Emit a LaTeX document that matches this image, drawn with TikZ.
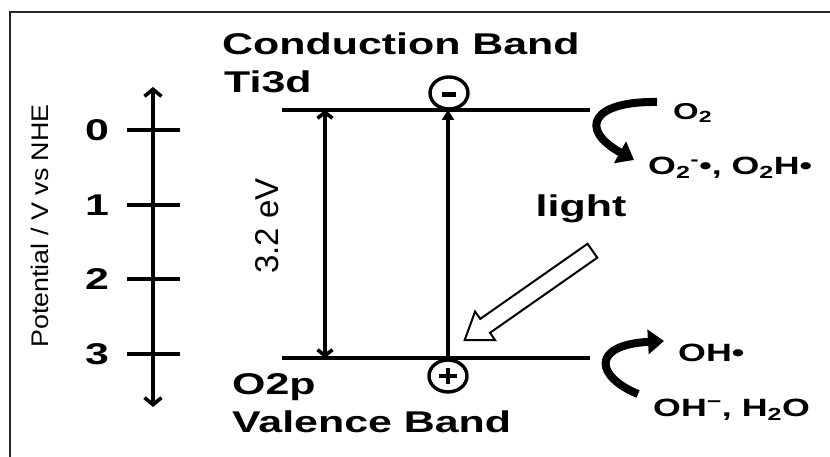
\documentclass[tikz,border=0pt]{standalone}
\usepackage{fontspec}
\setmainfont{Liberation Sans}
\newfontfamily\bandfont[FakeStretch=1.43]{Liberation Sans}
\newfontfamily\axisfont[FakeStretch=1.12]{Liberation Sans}
\usepackage{tikz}
\usetikzlibrary{arrows.meta,shapes.geometric,shapes.arrows}
\tikzset{
  frame-line/.style={line width=1.5pt,draw=black!85},
  band-line/.style={line width=3.6pt},
  axis-arrow/.style={{Straight Barb[length=7pt,width=17pt]}-{Straight Barb[length=7pt,width=17pt]},line width=3.6pt},
  gap-arrow/.style={{Straight Barb[length=6pt,width=15pt]}-{Straight Barb[length=6pt,width=15pt]},line width=3.6pt},
  exc-arrow/.style={-{Triangle[length=10pt,width=12pt]},line width=3.6pt},
  tick-mark/.style={line width=3.6pt},
  curve-arrow/.style={-{Triangle[length=16pt,width=24pt]},line width=8pt},
  carrier/.style={draw,ellipse,line width=3.4pt,minimum width=38pt,minimum height=32pt,inner sep=0pt},
  light-arrow/.style={single arrow,draw,line width=2pt,fill=white,inner xsep=0pt,inner ysep=7.5pt,
    minimum width=34pt,single arrow head extend=9pt,single arrow tip angle=70},
  band-label/.style={font=\bandfont\bfseries\fontsize{30}{36}\selectfont,inner sep=0pt},
  num-label/.style={font=\bandfont\bfseries\fontsize{30}{34}\selectfont,inner sep=0pt},
  chem-label/.style={font=\bandfont\bfseries\fontsize{25}{30}\selectfont,inner sep=0pt,anchor=west},
}

\begin{document}
\begin{tikzpicture}[x=1pt,y=1pt]
  \useasboundingbox (0,0) rectangle (830,457);
  \draw[frame-line] (10,0) |- (830,445);
  % potential axis
  \coordinate (axis-top) at (153,370);
  \coordinate (axis-bot) at (153,50);
  \draw[axis-arrow] (axis-bot) -- (axis-top);
  \foreach \v/\y in {0/327,1/252,2/178,3/103} {
    \draw[tick-mark] (127,\y) -- (180,\y);
    \node[num-label] (num-\v) at (97,\y) {\v};
  }
  \node[font=\axisfont\fontsize{24}{28}\selectfont,rotate=90] (axis-name) at (40,231) {Potential / V vs NHE};
  % bands
  \coordinate (cb-left) at (282,347);
  \coordinate (cb-right) at (590,347);
  \coordinate (vb-left) at (282,99);
  \coordinate (vb-right) at (590,99);
  \draw[band-line] (cb-left) -- (cb-right);
  \draw[band-line] (vb-left) -- (vb-right);
  \node[band-label,anchor=base west] (cb-name) at (222,402) {Conduction Band};
  \node[band-label,anchor=base west] (cb-orb) at (224,364) {Ti3d};
  \node[band-label,anchor=base west] (vb-orb) at (232,62) {O2p};
  \node[band-label,anchor=base west] (vb-name) at (232,24) {Valence Band};
  % band gap
  \coordinate (gap-top) at (325,347);
  \coordinate (gap-bot) at (325,99);
  \draw[gap-arrow] (gap-bot) -- (gap-top);
  \node[font=\fontsize{33}{36}\selectfont,rotate=90,inner sep=0pt] (gap-value) at (267,231) {3.2 eV};
  % excitation
  \node[carrier] (electron) at (449,364) {};
  \node[carrier] (hole) at (448,81) {};
  \draw[line width=5pt] ([xshift=-7pt,yshift=-2pt]electron.center) -- ([xshift=7pt,yshift=-2pt]electron.center);
  \draw[line width=4pt] ([xshift=-9pt]hole.center) -- ([xshift=9pt]hole.center);
  \draw[line width=4pt] ([yshift=-8pt]hole.center) -- ([yshift=8pt]hole.center);
  \coordinate (exc-bot) at (448,99);
  \coordinate (exc-top) at (448,347);
  \draw[exc-arrow] (exc-bot) -- (exc-top);
  % light
  \node[light-arrow,minimum height=156pt,rotate=215] (light-ray) at (533.5,165) {};
  \node[band-label,anchor=base] (light-name) at (581,240) {light};
  % reduction
  \coordinate (red-start) at (657,355);
  \coordinate (red-end) at (634,297);
  \draw[curve-arrow] (red-start) .. controls (592,356) and (578,328) .. (red-end);
  \node[chem-label,font=\bandfont\bfseries\fontsize{23}{27}\selectfont] (ox-in) at (673,344) {O\textsubscript{2}};
  \node[chem-label] (ox-out) at (648,289) {O\textsubscript{2}\textsuperscript{-}•, O\textsubscript{2}H•};
  % oxidation
  \coordinate (oxi-start) at (638,63);
  \coordinate (oxi-end) at (664,116);
  \draw[curve-arrow] (oxi-start) .. controls (596,80) and (590,112) .. (oxi-end);
  \node[chem-label] (hy-out) at (678,104) {OH•};
  \node[chem-label] (hy-in) at (653,47) {OH\textsuperscript{−}, H\textsubscript{2}O};
\end{tikzpicture}
\end{document}
